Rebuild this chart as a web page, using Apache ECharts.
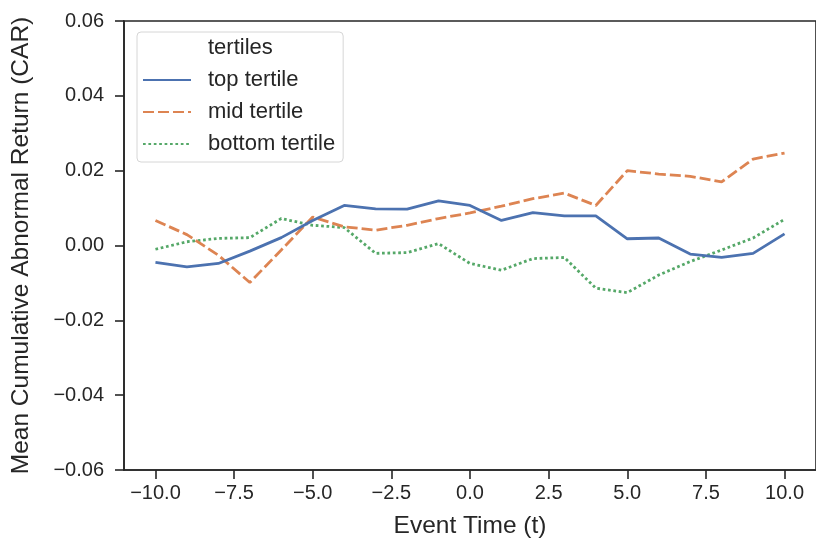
<!DOCTYPE html>
<html>
<head>
<meta charset="utf-8">
<script src="https://cdn.jsdelivr.net/npm/echarts@6/dist/echarts.min.js"></script>
<style>
  html, body { margin: 0; padding: 0; background: #fff; }
  #chart { width: 816px; height: 544px; }
</style>
</head>
<body>
<div id="chart"></div>
<script>
// 事件窗口 -10 … 10
const eventTime = [-10, -9, -8, -7, -6, -5, -4, -3, -2, -1, 0, 1, 2, 3, 4, 5, 6, 7, 8, 9, 10];

// 三个分位组的平均累计异常收益
const topTertile = [-0.0045, -0.0057, -0.0048, -0.0015, 0.0021, 0.0067, 0.0107, 0.0098, 0.0097, 0.0119, 0.0107,
  0.0067, 0.0088, 0.0079, 0.0079, 0.0018, 0.0020, -0.0023, -0.0032, -0.0021, 0.0031];
const midTertile = [0.0067, 0.0029, -0.0026, -0.0099, -0.0012, 0.0076, 0.0050, 0.0041, 0.0054, 0.0072, 0.0087,
  0.0105, 0.0125, 0.0140, 0.0107, 0.0200, 0.0191, 0.0185, 0.0170, 0.0231, 0.0247];
const bottomTertile = [-0.0010, 0.0010, 0.0019, 0.0021, 0.0072, 0.0054, 0.0048, -0.0021, -0.0019, 0.0005, -0.0048,
  -0.0066, -0.0035, -0.0032, -0.0114, -0.0126, -0.0079, -0.0043, -0.0012, 0.0020, 0.0070];

// 坐标轴刻度
const xTicks = [-10, -7.5, -5, -2.5, 0, 2.5, 5, 7.5, 10];
const yTicks = [-0.06, -0.04, -0.02, 0, 0.02, 0.04, 0.06];

const seriesNames = ['top tertile', 'mid tertile', 'bottom tertile'];
const seriesColors = ['#4c72b0', '#dd8452', '#55a868'];
const seriesDash = ['solid', [11, 4], [2.7, 2.7]];

const textColor = '#262626';
const fontFamily = '"Liberation Sans", Arial, sans-serif';

// matplotlib 用的是真正的减号
const minus = s => String(s).replace('-', '\u2212');

const toPairs = values => eventTime.map((t, i) => [t, values[i]]);

const chart = echarts.init(document.getElementById('chart'));

const lineSeries = [topTertile, midTertile, bottomTertile].map((values, i) => ({
  name: seriesNames[i],
  type: 'line',
  data: toPairs(values),
  symbol: 'none',
  color: seriesColors[i],
  lineStyle: { width: 2.8, type: seriesDash[i], cap: 'butt' },
  z: 3 - i
}));

const option = {
  animation: false,
  backgroundColor: '#fff',
  textStyle: { fontFamily: fontFamily, color: textColor },
  grid: {
    left: 124, right: -5, top: 21, bottom: 71,
    show: true, borderColor: textColor, borderWidth: 1.6, backgroundColor: 'transparent'
  },
  legend: {
    orient: 'vertical',
    left: 137, top: 32,
    padding: [5, 8, 7, 5],
    itemGap: 10,
    itemWidth: 48,
    itemHeight: 14,
    borderColor: '#d6d6d6',
    borderWidth: 1,
    borderRadius: 4,
    backgroundColor: '#fff',
    itemStyle: { opacity: 0 },
    textStyle: { fontSize: 22, color: textColor, fontFamily: fontFamily, padding: [0, 0, 0, 12] },
    data: [
      { name: 'tertiles', itemStyle: { opacity: 0 }, lineStyle: { opacity: 0 } },
      ...seriesNames
    ],
    selectedMode: false
  },
  xAxis: {
    type: 'value',
    min: -11, max: 11,
    name: 'Event Time (t)',
    nameLocation: 'middle',
    nameGap: 44,
    nameTextStyle: { fontSize: 24.5, color: textColor },
    splitLine: { show: false },
    axisLine: { onZero: false, lineStyle: { color: textColor, width: 1.6 } },
    axisTick: { show: true, length: 9, customValues: xTicks, lineStyle: { color: textColor, width: 1.6 } },
    axisLabel: {
      customValues: xTicks,
      fontSize: 20, color: textColor, margin: 13,
      formatter: v => minus(v.toFixed(1))
    }
  },
  yAxis: {
    type: 'value',
    min: -0.06, max: 0.06, interval: 0.02,
    name: 'Mean Cumulative Abnormal Return (CAR)',
    nameLocation: 'middle',
    nameGap: 90,
    nameTextStyle: { fontSize: 24.5, color: textColor },
    splitLine: { show: false },
    axisLine: { onZero: false, lineStyle: { color: textColor, width: 1.6 } },
    axisTick: { show: true, length: 9, lineStyle: { color: textColor, width: 1.6 } },
    axisLabel: {
      fontSize: 20, color: textColor, margin: 20,
      formatter: v => minus(v.toFixed(2))
    }
  },
  series: [
    { name: 'tertiles', type: 'line', data: [], symbol: 'none', color: 'rgba(0,0,0,0)', lineStyle: { opacity: 0 } },
    ...lineSeries
  ]
};

chart.setOption(option);
</script>
</body>
</html>
